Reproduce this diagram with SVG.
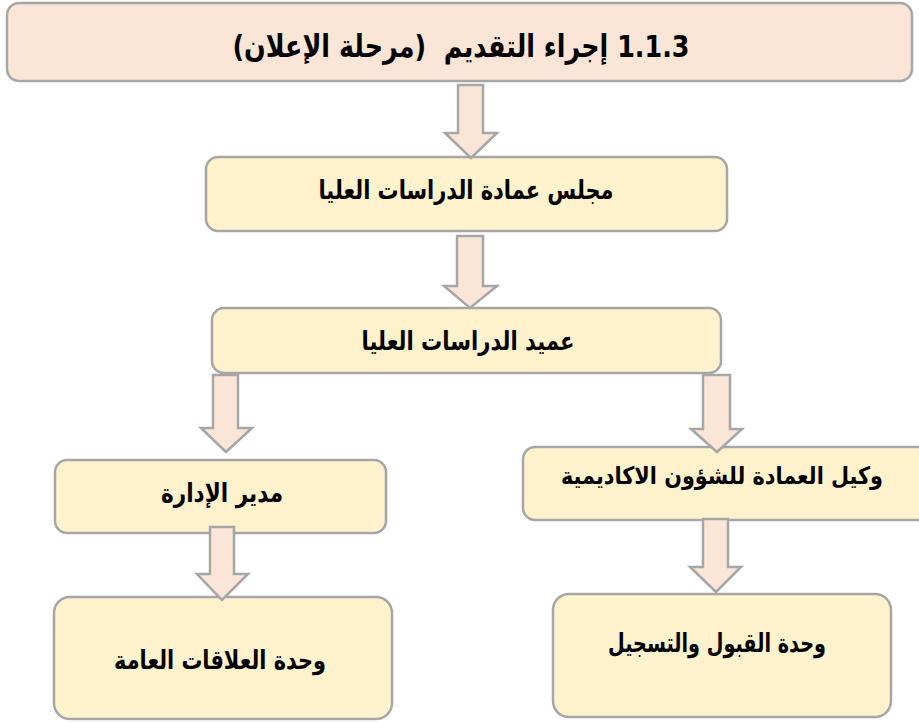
<svg xmlns="http://www.w3.org/2000/svg" width="919" height="722" viewBox="0 0 919 722">
<style>
.box{fill:#fff2cc;stroke:#a6a6a6;stroke-width:2.5}
.top{fill:#fbe5d6;stroke:#a6a6a6;stroke-width:2.5}
.arr{fill:#fbe5d6;stroke:#a6a6a6;stroke-width:2.5;stroke-linejoin:miter}
.t{font-family:"DejaVu Sans","Liberation Sans",sans-serif;font-weight:bold;font-size:26px;fill:#000;text-anchor:middle;direction:rtl;unicode-bidi:embed;white-space:pre}
.tt{font-size:31px}
.ts{font-size:24px}
</style>
<rect width="919" height="722" fill="#fff"/>
<g id="title">
<rect class="top" x="7" y="3" width="905" height="78" rx="12"/>
<text class="t tt" x="461" y="57" textLength="457" lengthAdjust="spacingAndGlyphs">1.1.3 إجراء التقديم  (مرحلة الإعلان)</text>
</g>
<g id="council">
<rect class="box" x="206" y="157" width="521" height="74" rx="12"/>
<text class="t" x="466" y="199" textLength="295" lengthAdjust="spacingAndGlyphs">مجلس عمادة الدراسات العليا</text>
</g>
<g id="dean">
<rect class="box" x="212" y="308" width="509" height="65" rx="12"/>
<text class="t" x="468" y="350" textLength="213" lengthAdjust="spacingAndGlyphs">عميد الدراسات العليا</text>
</g>
<g id="manager">
<rect class="box" x="55" y="460" width="331" height="73" rx="12"/>
<text class="t" x="222" y="502" textLength="122" lengthAdjust="spacingAndGlyphs">مدير الإدارة</text>
</g>
<g id="vicedean">
<rect class="box" x="523" y="447" width="412" height="73" rx="12"/>
<text class="t ts" x="722" y="484" textLength="322" lengthAdjust="spacingAndGlyphs">وكيل العمادة للشؤون الاكاديمية</text>
</g>
<g id="pr">
<rect class="box" x="54" y="597" width="338" height="122" rx="16"/>
<text class="t" x="220" y="669" textLength="212" lengthAdjust="spacingAndGlyphs">وحدة العلاقات العامة</text>
</g>
<g id="admission">
<rect class="box" x="553" y="594" width="338" height="123" rx="16"/>
<text class="t" x="717" y="652" textLength="218" lengthAdjust="spacingAndGlyphs">وحدة القبول والتسجيل</text>
</g>
<g id="connectors">
<path class="arr" d="M458,85 H483 V133 H497 L471,158 L445,133 H458 Z"/>
<path class="arr" d="M457,236 H483 V286 H497 L470,308 L444,286 H457 Z"/>
<path class="arr" d="M213,375 H238 V428 H252 L226,452 L201,428 H213 Z"/>
<path class="arr" d="M703,375 H730 V429 H742 L717,452 L691,429 H703 Z"/>
<path class="arr" d="M210,527 H234 V574 H248 L222,600 L197,574 H210 Z"/>
<path class="arr" d="M703,519 H728 V567 H741 L716,592 L690,567 H703 Z"/>
</g>
</svg>
